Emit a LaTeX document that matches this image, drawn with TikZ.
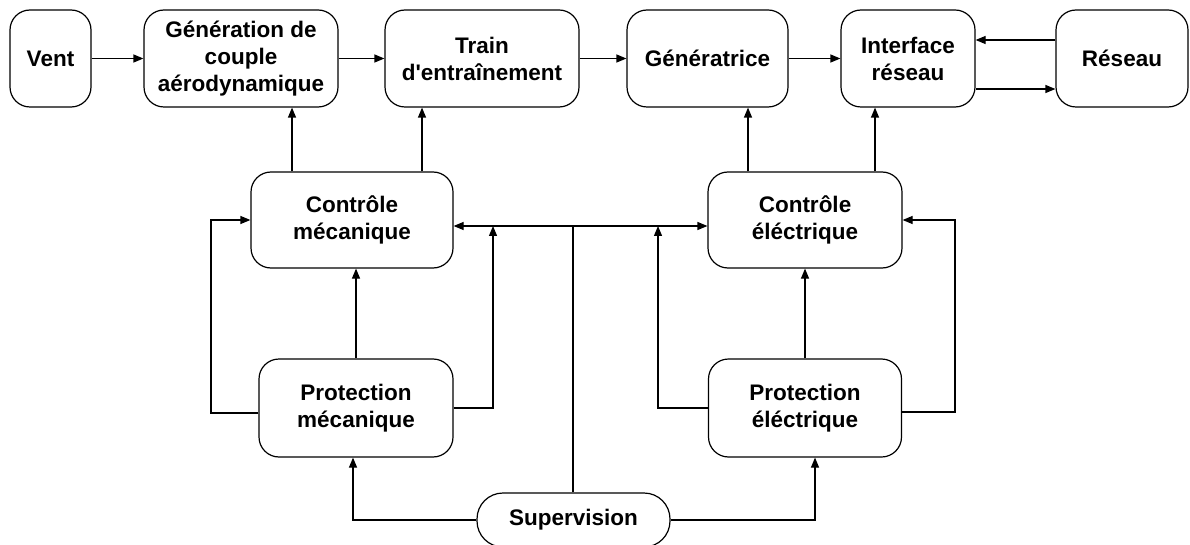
\documentclass[tikz,border=0pt]{standalone}
\usepackage{fontspec}
\setmainfont{Liberation Sans}[Ligatures=TeXOff]
\usetikzlibrary{arrows.meta}
\begin{document}
\begin{tikzpicture}[x=1pt,y=-1pt,
  box/.style={draw, line width=1.2pt, rounded corners=20pt, align=center,
    font=\fontsize{22.5}{27}\selectfont\bfseries, inner sep=0pt},
  link/.style={line width=1.2pt},
  arr/.style={line width=1.2pt, -{Triangle[length=10pt,width=8pt]}}]
\useasboundingbox (0,0) rectangle (1190,545);
\node[box, minimum width=81pt, minimum height=97pt] (vent) at (50.5,58.5) {Vent};
\node[box, minimum width=194pt, minimum height=97pt] (gen) at (241,58.5) {Génération de\\couple\\aérodynamique};
\node[box, minimum width=194pt, minimum height=97pt] (train) at (482,58.5) {Train\\d'entraînement};
\node[box, minimum width=161pt, minimum height=97pt] (gtr) at (707.5,58.5) {Génératrice};
\node[box, minimum width=134pt, minimum height=97pt] (itf) at (908,58.5) {Interface\\réseau};
\node[box, minimum width=132pt, minimum height=97pt] (res) at (1122,58.5) {Réseau};
\node[box, minimum width=202pt, minimum height=96pt] (cm) at (352,220) {Contrôle\\mécanique};
\node[box, minimum width=194pt, minimum height=96pt] (ce) at (805,220) {Contrôle\\éléctrique};
\node[box, minimum width=194pt, minimum height=98pt] (pm) at (356,408) {Protection\\mécanique};
\node[box, minimum width=193pt, minimum height=98pt] (pe) at (805,408) {Protection\\éléctrique};
\node[box, minimum width=193pt, minimum height=54pt, rounded corners=26pt] (sup) at (573.5,520) {Supervision};
\coordinate (j) at (573,226);
% top row
\draw[arr] (vent.east) -- (gen.west);
\draw[arr] (gen.east) -- (train.west);
\draw[arr] (train.east) -- (gtr.west);
\draw[arr] (gtr.east) -- (itf.west);
\draw[arr] (res.west |- 0,40) -- (itf.east |- 0,40);
\draw[arr] (itf.east |- 0,89) -- (res.west |- 0,89);
% control up to top row
\draw[arr] (292,0 |- cm.north) -- (292,0 |- gen.south);
\draw[arr] (422,0 |- cm.north) -- (422,0 |- train.south);
\draw[arr] (748,0 |- ce.north) -- (748,0 |- gtr.south);
\draw[arr] (875,0 |- ce.north) -- (875,0 |- itf.south);
% supervision bus
\draw[link] (sup.north -| j) -- (j);
\draw[arr] (j) -- (cm.east |- j);
\draw[arr] (j) -- (ce.west |- j);
% protection -> control
\draw[arr] (pm.north) -- (pm.north |- cm.south);
\draw[arr] (pe.north) -- (pe.north |- ce.south);
\draw[arr] (pm.west |- 0,413) -- (211,413) -- (211,220) -- (cm.west);
\draw[arr] (pm.east) -- (493,408) -- (493,0 |- j);
\draw[arr] (pe.west) -- (658,408) -- (658,0 |- j);
\draw[arr] (pe.east |- 0,412) -- (955,412) -- (955,220) -- (ce.east);
% supervision -> protection
\draw[arr] (sup.west) -- (353,520) -- (353,0 |- pm.south);
\draw[arr] (sup.east) -- (815,520) -- (815,0 |- pe.south);
\end{tikzpicture}
\end{document}
